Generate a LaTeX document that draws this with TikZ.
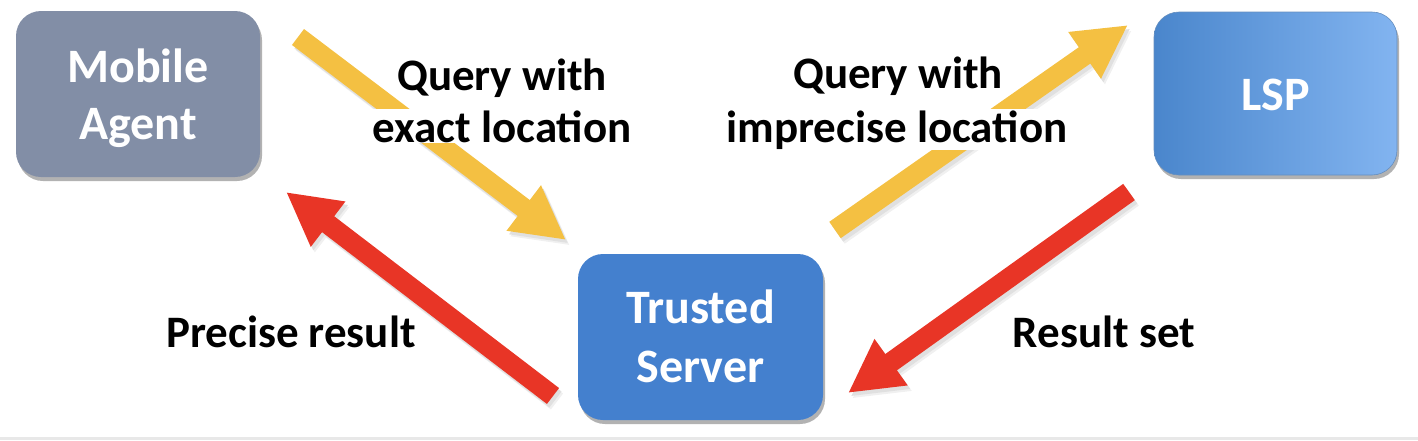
\documentclass[tikz,border=0pt]{standalone}
\usepackage{fontspec}
\setmainfont{Carlito}
\usetikzlibrary{arrows.meta,shadows}
\definecolor{agentgray}{RGB}{130,142,166}
\definecolor{tsblue}{RGB}{68,128,206}
\definecolor{lspleft}{RGB}{74,134,204}
\definecolor{lspright}{RGB}{130,180,240}
\definecolor{arryellow}{RGB}{244,192,66}
\definecolor{arrred}{RGB}{232,53,38}
\tikzset{
  boxnode/.style={rounded corners=25pt, inner sep=0pt, text=white,
    font=\fontsize{48}{57}\selectfont\bfseries, align=center,
    drop shadow={shadow xshift=2pt, shadow yshift=-4pt, opacity=0.3, fill=black}},
  lbl/.style={fill=white, inner sep=1pt, anchor=base,
    font=\fontsize{45}{52}\selectfont\bfseries, text=black},
  fatarrow/.style={line width=20pt,
    -{Triangle[length=53pt,width=53pt]}},
  arrshadow/.style={fatarrow, draw=black!12, color=black!12,
    transform canvas={shift={(2.5pt,-3.5pt)}}},
  arrshadowsoft/.style={fatarrow, draw=black!6, color=black!6,
    transform canvas={shift={(4pt,-5.5pt)}}},
}
\begin{document}
\begin{tikzpicture}[x=1pt,y=-1pt]
\useasboundingbox (0,0) rectangle (1418,440);
\fill[black!9] (0,437) rectangle (1418,440);

% arrow end points
\coordinate (y1s) at (298,37);
\coordinate (y1e) at (566,240);
\coordinate (y2s) at (835,230);
\coordinate (y2e) at (1128,25);
\coordinate (r1s) at (553,396);
\coordinate (r1e) at (286,192);
\coordinate (r2s) at (1129,192);
\coordinate (r2e) at (848,393);

% arrow shadows
\foreach \a/\b in {y1s/y1e,y2s/y2e,r1s/r1e,r2s/r2e}{
  \draw[arrshadowsoft] (\a) -- (\b);
  \draw[arrshadow] (\a) -- (\b);
}

% arrows
\draw[fatarrow, draw=arryellow, color=arryellow] (y1s) -- (y1e);
\draw[fatarrow, draw=arryellow, color=arryellow] (y2s) -- (y2e);
\draw[fatarrow, draw=arrred, color=arrred] (r1s) -- (r1e);
\draw[fatarrow, draw=arrred, color=arrred] (r2s) -- (r2e);

% boxes
\node[boxnode, fill=agentgray, minimum width=244pt, minimum height=166pt]
  (ma) at (138,94) {\rule{0pt}{43pt}Mobile\\Agent\rule[-10pt]{0pt}{10pt}};
\node[boxnode, left color=lspleft, right color=lspright, draw=lspleft!85!black!80, line width=0.6pt,
  minimum width=243pt, minimum height=163pt]
  (lsp) at (1275.5,93.5) {\rule[-10pt]{0pt}{53pt}LSP};
\node[boxnode, fill=tsblue, minimum width=245pt, minimum height=166pt,
  font=\fontsize{48}{59}\selectfont\bfseries]
  (ts) at (700.5,337) {\rule{0pt}{41pt}Trusted\\Server\rule[-10pt]{0pt}{10pt}};

% labels
\node[lbl] (q1a) at (502,90) {Query with};
\node[lbl] (q1b) at (502,142) {exact location};
\node[lbl] (q2a) at (898,88) {Query with};
\node[lbl] (q2b) at (897,142) {imprecise location};
\node[lbl] (pr) at (291,347) {Precise result};
\node[lbl] (rs) at (1104,347) {Result set};
\end{tikzpicture}
\end{document}
